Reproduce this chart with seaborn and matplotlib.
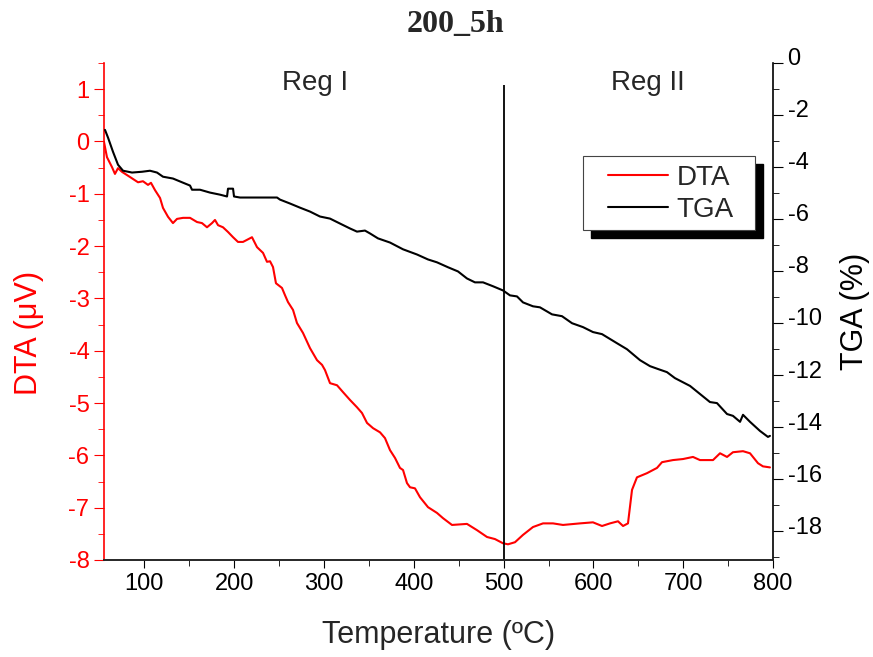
import matplotlib
matplotlib.use("Agg")
import matplotlib.pyplot as plt
import matplotlib.transforms as mtransforms
import seaborn as sns
import pandas as pd
from matplotlib.patches import Rectangle
from matplotlib.ticker import MultipleLocator

# --- Data ---
dta_temp = [55.0, 58.3, 63.9, 67.2, 70.6, 75.0, 84.0, 92.9, 98.4, 104.0, 107.3, 111.8, 117.4, 120.7,
            126.3, 131.8, 136.3, 143.0, 150.8, 158.6, 164.1, 169.7, 175.3, 178.6, 182.0, 187.5,
            193.1, 198.7, 204.2, 209.8, 215.4, 219.8, 225.4, 232.1, 236.5, 239.9, 243.2, 246.5,
            253.2, 256.6, 259.9, 265.5, 269.9, 276.6, 284.4, 292.2, 297.8, 301.1, 306.7, 314.5,
            321.1, 328.9, 336.7, 342.3, 347.9, 354.6, 362.4, 367.9, 373.5, 379.1, 384.6, 388.0,
            392.4, 395.8, 401.3, 406.9, 415.8, 425.8, 432.5, 442.5, 459.2, 470.4, 481.5, 490.4,
            499.3, 504.9, 512.7, 521.6, 532.7, 543.9, 555.0, 566.1, 585.1, 599.5, 609.6, 618.5,
            627.4, 633.0, 638.5, 643.0, 648.5, 659.7, 670.8, 676.4, 688.6, 699.8, 710.9, 718.7,
            733.2, 741.0, 748.8, 755.4, 766.6, 774.4, 783.3, 788.8, 796.6]
dta_val = [-0.01, -0.30, -0.49, -0.62, -0.51, -0.58, -0.68, -0.78, -0.76, -0.83, -0.79, -0.93, -1.08,
           -1.27, -1.44, -1.56, -1.48, -1.46, -1.46, -1.54, -1.56, -1.64, -1.56, -1.50, -1.60, -1.64,
           -1.73, -1.83, -1.92, -1.92, -1.87, -1.83, -2.02, -2.13, -2.30, -2.29, -2.40, -2.71,
           -2.80, -2.94, -3.07, -3.22, -3.47, -3.66, -3.95, -4.18, -4.27, -4.37, -4.62, -4.66,
           -4.79, -4.94, -5.08, -5.19, -5.38, -5.48, -5.56, -5.67, -5.90, -6.05, -6.24, -6.28,
           -6.53, -6.61, -6.63, -6.80, -6.99, -7.10, -7.20, -7.33, -7.31, -7.43, -7.56, -7.60,
           -7.68, -7.70, -7.66, -7.52, -7.37, -7.30, -7.30, -7.33, -7.30, -7.28, -7.35, -7.30,
           -7.26, -7.35, -7.30, -6.66, -6.42, -6.34, -6.24, -6.13, -6.09, -6.07, -6.03, -6.09,
           -6.09, -5.96, -6.03, -5.94, -5.92, -5.96, -6.15, -6.21, -6.23]

tga_temp = [56.1, 59.5, 65.0, 70.6, 76.2, 86.2, 97.3, 106.2, 114.0, 120.7, 131.8, 143.0, 150.8, 153.0,
            161.9, 173.0, 184.2, 192.0, 193.1, 198.7, 199.8, 206.5, 217.6, 228.7, 239.9, 247.7,
            251.0, 262.1, 273.3, 284.4, 295.5, 306.7, 317.8, 329.0, 336.7, 345.6, 351.2, 360.1,
            373.5, 388.0, 403.6, 415.8, 425.8, 438.1, 449.2, 459.2, 468.1, 477.1, 488.2, 499.3,
            507.1, 514.9, 521.6, 532.7, 540.5, 553.9, 565.0, 576.2, 588.4, 599.5, 609.6, 626.3,
            637.4, 651.9, 663.0, 671.9, 681.9, 690.8, 707.6, 718.7, 729.8, 737.6, 748.8, 755.4,
            763.3, 766.6, 774.4, 785.5, 794.4, 796.6]
tga_val = [-2.57, -2.87, -3.41, -3.91, -4.14, -4.21, -4.18, -4.14, -4.21, -4.37, -4.44, -4.60, -4.71,
           -4.87, -4.87, -4.98, -5.06, -5.13, -4.83, -4.83, -5.13, -5.17, -5.17, -5.17, -5.17,
           -5.17, -5.25, -5.40, -5.56, -5.71, -5.90, -5.98, -6.17, -6.36, -6.48, -6.44, -6.55,
           -6.74, -6.90, -7.16, -7.36, -7.55, -7.66, -7.85, -8.01, -8.28, -8.43, -8.43, -8.58,
           -8.74, -8.93, -8.97, -9.20, -9.35, -9.39, -9.66, -9.73, -10.00, -10.15, -10.34, -10.42,
           -10.77, -11.00, -11.42, -11.65, -11.76, -11.88, -12.11, -12.41, -12.72, -13.03, -13.07,
           -13.49, -13.56, -13.79, -13.52, -13.79, -14.14, -14.37, -14.33]

region_labels = ["Reg I", "Reg II"]
region_x = [290, 661]
boundary_temp = 500

dta_df = pd.DataFrame({"Temperature": dta_temp, "DTA": dta_val})
tga_df = pd.DataFrame({"Temperature": tga_temp, "TGA": tga_val})

# --- Style ---
sns.set_style("ticks")
plt.rcParams["font.family"] = ["Liberation Sans", "DejaVu Sans"]
plt.rcParams["axes.linewidth"] = 1.2
plt.rcParams["axes.unicode_minus"] = False

fig = plt.figure(figsize=(8.73, 6.57), dpi=100)
ax = fig.add_axes([104 / 873, 1 - 560 / 657, 669 / 873, 497 / 657])
ax2 = ax.twinx()

sns.lineplot(data=dta_df, x="Temperature", y="DTA", ax=ax, color="red", lw=1.5,
             sort=False, estimator=None, label="DTA", legend=False)
sns.lineplot(data=tga_df, x="Temperature", y="TGA", ax=ax2, color="black", lw=1.5,
             sort=False, estimator=None, label="TGA", legend=False)

ax.vlines(boundary_temp, -8, 1.08, color="black", lw=1.3)

ax.set_xlim(55, 800)
ax.set_ylim(-8, 1.5)
ax2.set_ylim(-19.1, 0)

# --- Axes styling ---
for a in (ax, ax2):
    a.spines["top"].set_visible(False)
ax.spines["right"].set_visible(False)
ax.spines["left"].set_color("red")
ax2.spines["left"].set_visible(False)
ax2.spines["right"].set_color("black")

ax.xaxis.set_major_locator(MultipleLocator(100))
ax.xaxis.set_minor_locator(MultipleLocator(50))
ax.yaxis.set_major_locator(MultipleLocator(1))
ax.yaxis.set_minor_locator(MultipleLocator(0.5))
ax2.yaxis.set_major_locator(MultipleLocator(2))
ax2.yaxis.set_minor_locator(MultipleLocator(1))

ax.tick_params(axis="x", which="both", direction="out", labelsize=17, colors="black", top=False)
ax.tick_params(axis="x", which="major", length=6)
ax.tick_params(axis="x", which="minor", length=4)
ax.tick_params(axis="y", which="both", direction="out", labelsize=17, colors="red", right=False)
ax.tick_params(axis="y", which="major", length=7)
ax.tick_params(axis="y", which="minor", length=4)
ax2.tick_params(axis="y", which="both", direction="out", labelsize=17, colors="black", left=False)
ax2.tick_params(axis="y", which="major", length=7)
ax2.tick_params(axis="y", which="minor", length=4)

# right-hand tick labels sit a little above their ticks in the original
fig.canvas.draw()
shift = mtransforms.ScaledTranslation(0, 4.5 / 72, fig.dpi_scale_trans)
for tick in ax2.yaxis.get_major_ticks():
    tick.label2.set_transform(tick.label2.get_transform() + shift)

ax.set_xlabel("Temperature (ºC)", fontsize=22)
ax.set_ylabel("DTA (μV)", fontsize=22, color="red")
ax2.set_ylabel("TGA (%)", fontsize=22, color="black")
ax.xaxis.set_label_coords(0.5, -0.12)
ax.yaxis.set_label_coords(-0.09, 0.457)
ax2.yaxis.set_label_coords(1.10, 0.5)

for txt, xpos in zip(region_labels, region_x):
    ax.text(xpos, 1.12, txt, fontsize=20, ha="center", va="center")

fig.text(0.522, 0.963, "200_5h", fontsize=23, fontweight="bold",
         family=["Liberation Serif", "DejaVu Serif"], ha="center", va="center")

# --- Legend: white box with solid black drop shadow ---
ax2.add_patch(Rectangle((591 / 873, 1 - 238 / 657), 172 / 873, 74 / 657, transform=fig.transFigure,
                        facecolor="black", edgecolor="black", zorder=4, clip_on=False))
ax2.add_patch(Rectangle((583 / 873, 1 - 230 / 657), 172 / 873, 74 / 657, transform=fig.transFigure,
                        facecolor="white", edgecolor="#444444", lw=0.8, zorder=4.5, clip_on=False))
handles = ax.get_lines()[:1] + ax2.get_lines()[:1]
ax2.legend(handles, ["DTA", "TGA"], loc="center", frameon=False,
           bbox_to_anchor=(671 / 873, 1 - 194 / 657), bbox_transform=fig.transFigure,
           fontsize=20, handlelength=2.15, handletextpad=0.3, labelspacing=0.2, borderpad=0.2)

fig.savefig("out.png", dpi=100)
